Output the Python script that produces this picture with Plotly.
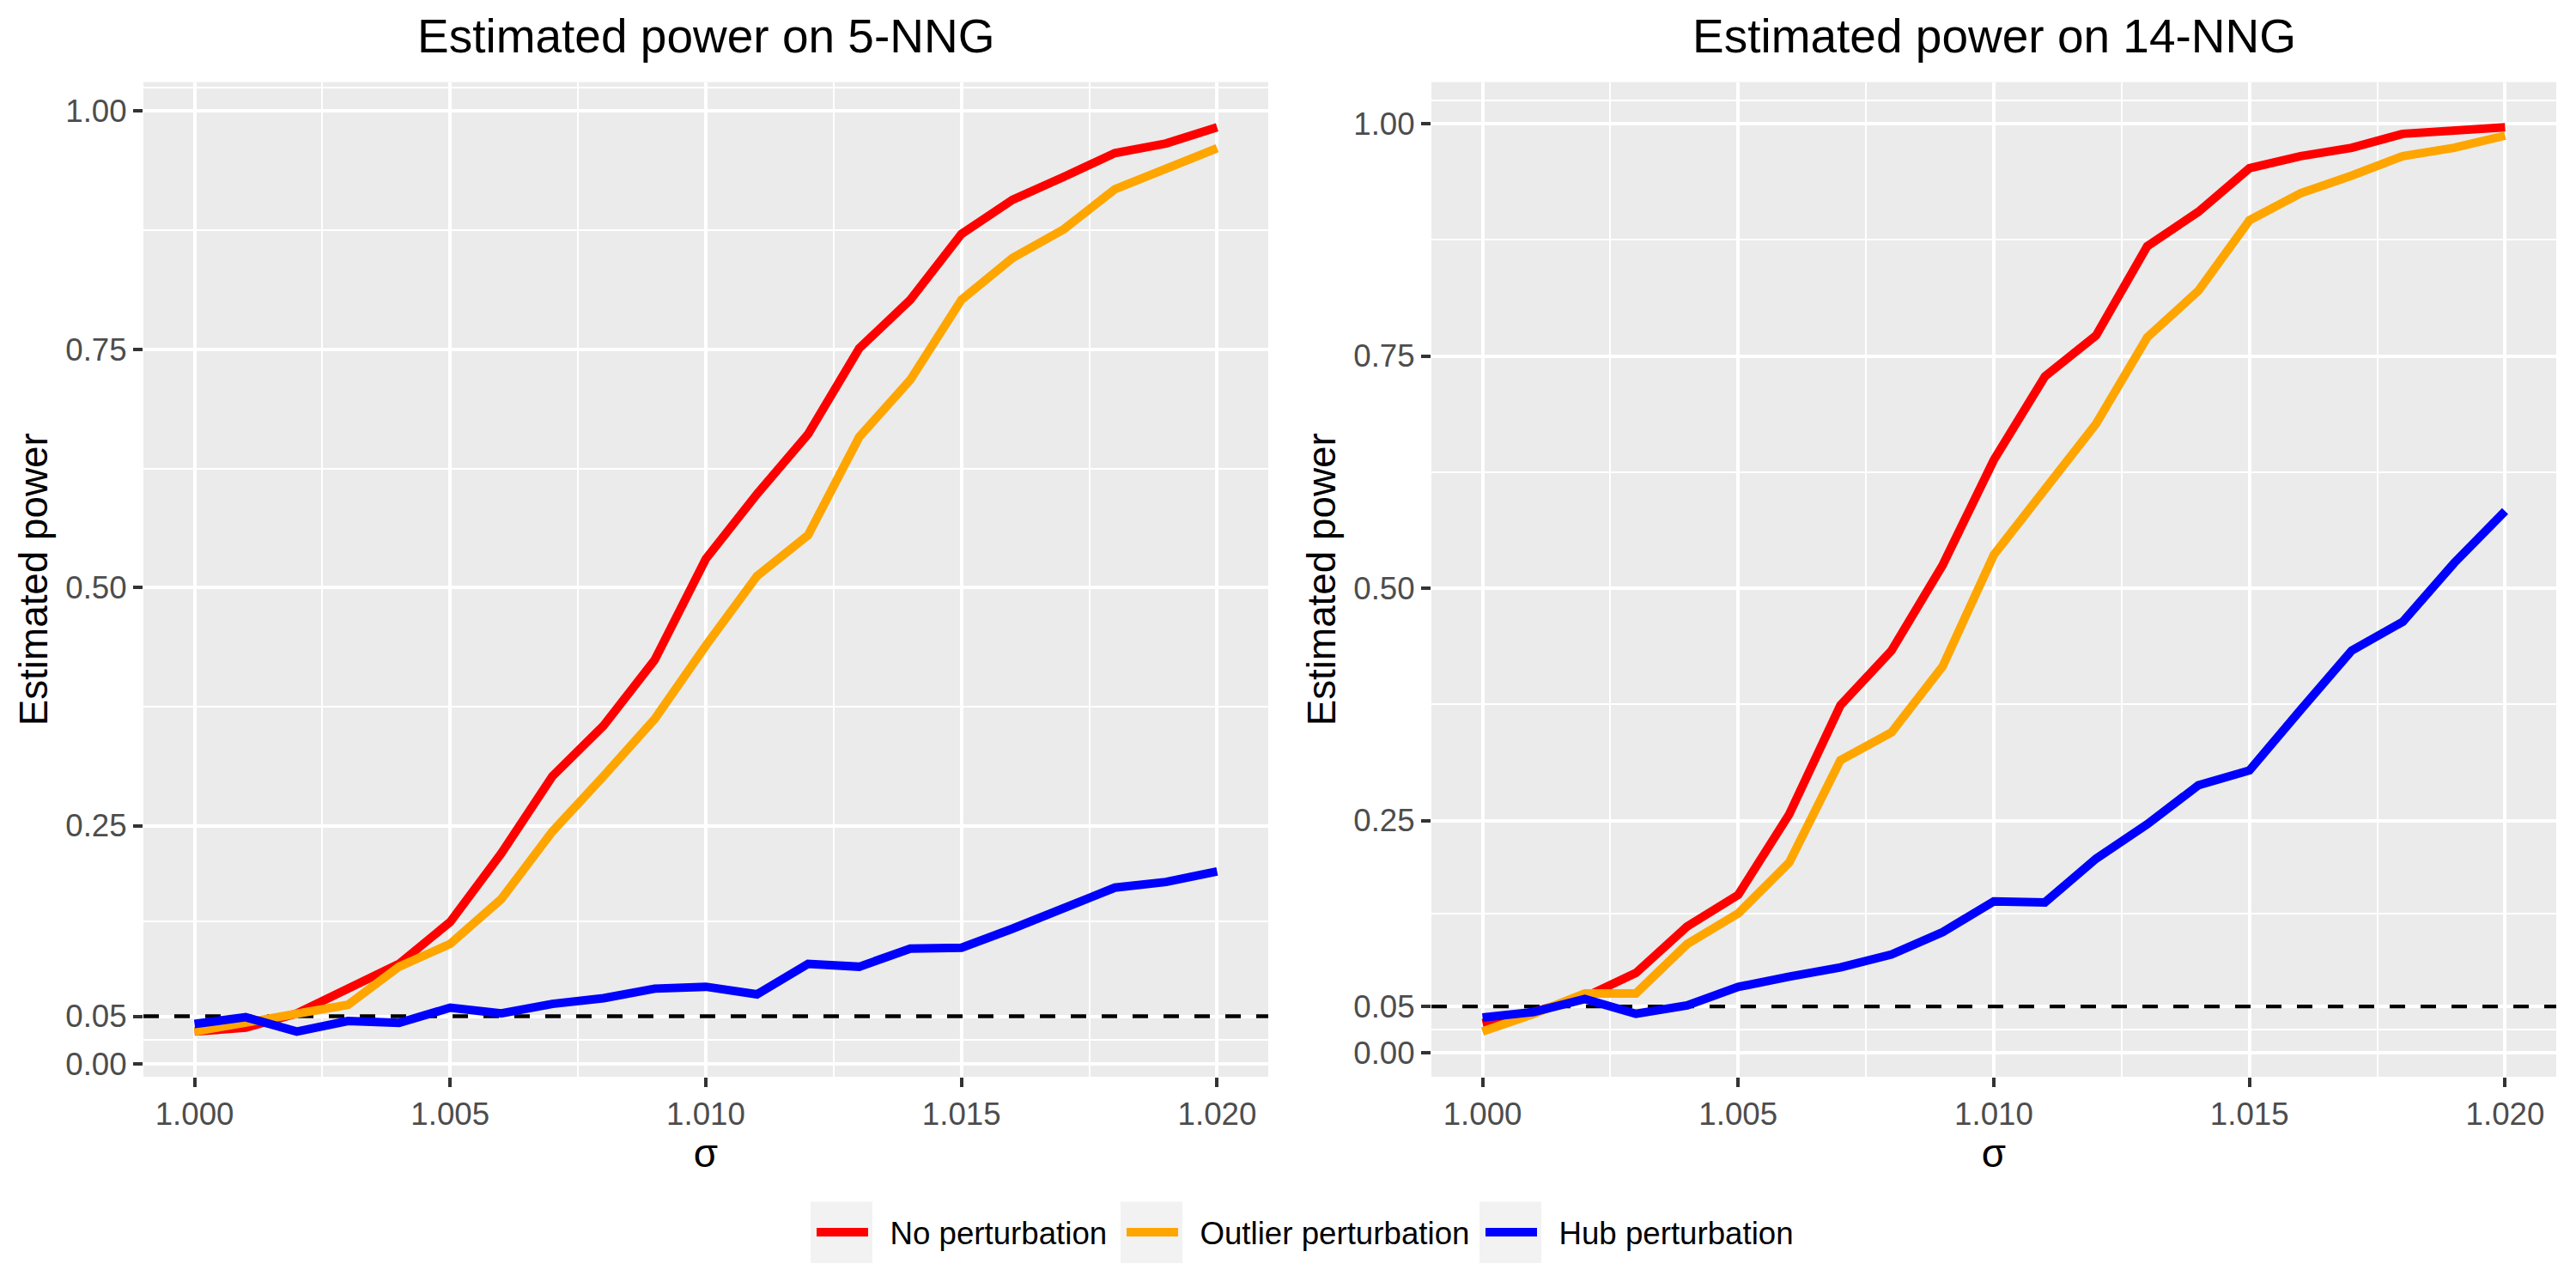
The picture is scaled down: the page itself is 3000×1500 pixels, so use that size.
import plotly.graph_objects as go

# ---------------- data ----------------
sigma = [1.000, 1.001, 1.002, 1.003, 1.004, 1.005, 1.006, 1.007, 1.008, 1.009, 1.010,
         1.011, 1.012, 1.013, 1.014, 1.015, 1.016, 1.017, 1.018, 1.019, 1.020]

nng5_none = [0.034, 0.038, 0.053, 0.079, 0.105, 0.149, 0.221, 0.302, 0.355, 0.424, 0.530,
             0.598, 0.661, 0.751, 0.802, 0.871, 0.907, 0.931, 0.956, 0.966, 0.983]
nng5_outlier = [0.034, 0.043, 0.052, 0.062, 0.102, 0.126, 0.173, 0.244, 0.302, 0.362, 0.439,
                0.512, 0.555, 0.658, 0.718, 0.802, 0.846, 0.876, 0.918, 0.939, 0.961]
nng5_hub = [0.042, 0.049, 0.034, 0.045, 0.043, 0.059, 0.053, 0.063, 0.069, 0.079, 0.081,
            0.073, 0.105, 0.102, 0.121, 0.122, 0.142, 0.163, 0.185, 0.191, 0.202]

nng14_none = [0.032, 0.044, 0.060, 0.086, 0.136, 0.170, 0.257, 0.374, 0.433, 0.525, 0.638,
              0.728, 0.772, 0.868, 0.905, 0.952, 0.965, 0.974, 0.989, 0.993, 0.996]
nng14_outlier = [0.023, 0.042, 0.064, 0.064, 0.117, 0.150, 0.205, 0.315, 0.345, 0.416, 0.536,
                 0.605, 0.677, 0.770, 0.820, 0.896, 0.925, 0.944, 0.965, 0.974, 0.987]
nng14_hub = [0.038, 0.044, 0.058, 0.042, 0.051, 0.071, 0.082, 0.092, 0.106, 0.130, 0.163,
             0.162, 0.209, 0.246, 0.288, 0.304, 0.369, 0.433, 0.464, 0.527, 0.583]

series_names = ["No perturbation", "Outlier perturbation", "Hub perturbation"]
series_colors = ["#FF0000", "#FFA500", "#0000FF"]
panel_titles = ["Estimated power on 5-NNG", "Estimated power on 14-NNG"]

y_ticks = [0.00, 0.05, 0.25, 0.50, 0.75, 1.00]
y_ticktext = ["0.00", "0.05", "0.25", "0.50", "0.75", "1.00"]
y_minor = [-0.025, 0.025, 0.15, 0.375, 0.625, 0.875, 1.025]
x_ticks = [1.000, 1.005, 1.010, 1.015, 1.020]
x_ticktext = ["1.000", "1.005", "1.010", "1.015", "1.020"]
x_minor = [1.0025, 1.0075, 1.0125, 1.0175]
alpha_level = 0.05

panels = [
    [nng5_none, nng5_outlier, nng5_hub],
    [nng14_none, nng14_outlier, nng14_hub],
]

# ---------------- figure ----------------
W, H = 3000, 1500
FONT = "Liberation Sans, Arial, sans-serif"
fig = go.Figure()

x_domains = [[167 / W, 1477 / W], [1667 / W, 2977 / W]]
y_domain = [1 - 1259 / H, 1 - 96 / H]

# legend key boxes (pixel layout positions)
legend_ids = ["legend", "legend2", "legend3"]
key_left_px = [944, 1305, 1723]
key_size_px = 72
key_center_y_px = 1441
key_line_px = 60
NBSP = "\u00a0"


def expand(lo, hi, f=0.05):
    d = hi - lo
    return [lo - f * d, hi + f * d]


xr = expand(min(sigma), max(sigma))

for p, data in enumerate(panels):
    xa = "x" if p == 0 else "x2"
    ya = "y" if p == 0 else "y2"
    allv = [v for s in data for v in s]
    yr = expand(min(allv), max(allv))

    # dashed reference line at alpha level
    fig.add_trace(go.Scatter(
        x=[xr[0], xr[1]], y=[alpha_level, alpha_level], mode="lines",
        line=dict(color="black", width=4.4, dash="18px,18px"),
        xaxis=xa, yaxis=ya, showlegend=False, hoverinfo="skip"))

    for i, (name, color, vals) in enumerate(zip(series_names, series_colors, data)):
        fig.add_trace(go.Scatter(
            x=sigma, y=vals, mode="lines", name=NBSP * 2 + name,
            line=dict(color=color, width=10),
            xaxis=xa, yaxis=ya, showlegend=(p == 0), legendgroup=name,
            legend=legend_ids[i]))

    axis_common = dict(
        showline=False, zeroline=False, ticks="outside", ticklen=11, tickwidth=4.4,
        tickcolor="#333333", showgrid=True, gridcolor="white", gridwidth=4.4,
        tickfont=dict(family=FONT, size=36.7, color="#4D4D4D"),
    )
    xkey = "xaxis" if p == 0 else "xaxis2"
    ykey = "yaxis" if p == 0 else "yaxis2"
    fig.update_layout(**{
        xkey: dict(
            domain=x_domains[p], anchor=ya, range=xr,
            tickmode="array", tickvals=x_ticks, ticktext=x_ticktext,
            minor=dict(tickvals=x_minor, showgrid=True, gridcolor="white", gridwidth=2.2, ticks=""),
            title=dict(text="σ", font=dict(family=FONT, size=45.8, color="black"), standoff=0),
            **axis_common),
        ykey: dict(
            domain=y_domain, anchor=xa, range=yr,
            tickmode="array", tickvals=y_ticks, ticktext=y_ticktext,
            minor=dict(tickvals=y_minor, showgrid=True, gridcolor="white", gridwidth=2.2, ticks=""),
            title=dict(text="Estimated power", font=dict(family=FONT, size=45.8, color="black"), standoff=6),
            **axis_common),
    })

    fig.add_annotation(
        text=panel_titles[p], xref="paper", yref="paper",
        x=(x_domains[p][0] + x_domains[p][1]) / 2, y=1 - 42 / H,
        xanchor="center", yanchor="middle", showarrow=False,
        font=dict(family=FONT, size=55, color="black"))

# legend key background boxes and three single-item legends
legend_layouts = {}
for lid, kx in zip(legend_ids, key_left_px):
    fig.add_shape(type="rect", xref="paper", yref="paper",
                  x0=kx / W, x1=(kx + key_size_px) / W,
                  y0=1 - (key_center_y_px + key_size_px / 2) / H,
                  y1=1 - (key_center_y_px - key_size_px / 2) / H,
                  fillcolor="#F2F2F2", line=dict(width=0), layer="below")
    legend_layouts[lid] = dict(
        orientation="h", x=(kx + 2) / W, xanchor="left",
        y=1 - key_center_y_px / H, yanchor="middle",
        font=dict(family=FONT, size=36.7, color="black"),
        itemwidth=key_line_px, bgcolor="rgba(0,0,0,0)", borderwidth=0,
    )

fig.update_layout(
    width=W, height=H, autosize=False,
    margin=dict(l=0, r=0, t=0, b=0),
    paper_bgcolor="white", plot_bgcolor="#EBEBEB",
    font=dict(family=FONT, color="black"),
    **legend_layouts,
)

fig.write_html("out.html", config={"displayModeBar": False},
               post_script="document.body.style.margin='0px';")
